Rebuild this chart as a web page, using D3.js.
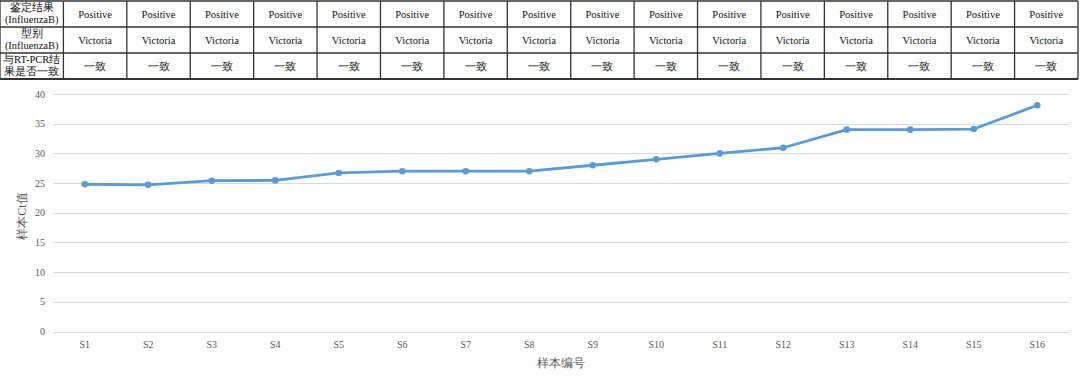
<!DOCTYPE html>
<html><head><meta charset="utf-8">
<script src="https://cdn.jsdelivr.net/npm/d3@7"></script>
<style>body{margin:0;background:#fff}svg{display:block}</style>
</head><body><svg id="c" width="1080" height="382"></svg>
<script>
const categories = ["S1","S2","S3","S4","S5","S6","S7","S8","S9","S10","S11","S12","S13","S14","S15","S16"];
const ctValues = [24.8,24.7,25.4,25.45,26.7,27.0,27.0,27.0,28.0,29.0,30.0,30.95,34.0,34.0,34.1,38.1];
const yTicks = [0,5,10,15,20,25,30,35,40];
const rowHeaders = [["鉴定结果","(InfluenzaB)"],["型别","(InfluenzaB)"],["与RT-PCR结","果是否一致"]];
const rowValues = ["Positive","Victoria","一致"];
const yTitle = "样本Ct值";
const xTitle = "样本编号";

const svg = d3.select("#c");
const font = "'Liberation Serif','DejaVu Serif',serif";

// table
const tx = d3.scaleBand().domain(d3.range(17)).range([0,1078]);
const ty = d3.scaleBand().domain(d3.range(3)).range([1,79]);
const tg = svg.append("g");
rowHeaders.forEach((h,r)=>{
  const cy = ty(r)+ty.bandwidth()/2;
  const t = tg.append("text").attr("x",tx(0)+tx.bandwidth()/2).attr("y",cy)
    .attr("text-anchor","middle").attr("font-family",font).attr("font-size",10.5).attr("fill","#111");
  t.append("tspan").attr("x",tx(0)+tx.bandwidth()/2).attr("dy","-0.25em").text(h[0]);
  t.append("tspan").attr("x",tx(0)+tx.bandwidth()/2).attr("dy","1.15em").text(h[1]);
  categories.forEach((c,i)=>{
    tg.append("text").attr("x",tx(i+1)+tx.bandwidth()/2).attr("y",cy+3.5)
      .attr("text-anchor","middle").attr("font-family",font).attr("font-size",10.5)
      .attr("fill","#111").text(rowValues[r]);
  });
});
// table lines
d3.range(4).forEach(r=>{
  const y = r<3 ? ty(r) : ty(2)+ty.bandwidth();
  tg.append("line").attr("x1",0).attr("x2",1078).attr("y1",y).attr("y2",y)
    .attr("stroke","#333").attr("stroke-width", r===3?2:1.3);
});
d3.range(18).forEach(i=>{
  const x = i<17 ? tx(i) : 1078;
  tg.append("line").attr("x1",x).attr("x2",x).attr("y1",ty(0)).attr("y2",ty(2)+ty.bandwidth())
    .attr("stroke","#333").attr("stroke-width",1.3);
});

// chart
const x = d3.scaleBand().domain(categories).range([53,1069]);
const y = d3.scaleLinear().domain([0,40]).range([331.5,94]);
const g = svg.append("g");
g.selectAll("line.grid").data(yTicks).join("line").attr("class","grid")
  .attr("x1",53).attr("x2",1069).attr("y1",d=>Math.round(y(d))+0.5).attr("y2",d=>Math.round(y(d))+0.5)
  .attr("stroke","#d9d9d9").attr("stroke-width",1);
g.selectAll("text.yt").data(yTicks).join("text").attr("class","yt")
  .attr("x",45).attr("y",d=>y(d)+3.5).attr("text-anchor","end")
  .attr("font-family",font).attr("font-size",10).attr("fill","#595959").text(d=>d);
g.selectAll("text.xt").data(categories).join("text").attr("class","xt")
  .attr("x",d=>x(d)+x.bandwidth()/2).attr("y",348).attr("text-anchor","middle")
  .attr("font-family",font).attr("font-size",10).attr("fill","#595959").text(d=>d);
const pts = categories.map((c,i)=>[x(c)+x.bandwidth()/2, y(ctValues[i])]);
g.append("path").attr("d",d3.line()(pts)).attr("fill","none").attr("stroke","#5B9BD5")
  .attr("stroke-width",2.8).attr("stroke-linejoin","round");
g.selectAll("circle").data(pts).join("circle").attr("cx",d=>d[0]).attr("cy",d=>d[1]).attr("r",3.3)
  .attr("fill","#5B9BD5");
svg.append("text").attr("transform","translate(26,216) rotate(-90)").attr("text-anchor","middle")
  .attr("font-family",font).attr("font-size",12).attr("fill","#595959").text(yTitle);
svg.append("text").attr("x",561).attr("y",367).attr("text-anchor","middle")
  .attr("font-family",font).attr("font-size",12).attr("fill","#595959").text(xTitle);
</script></body></html>
